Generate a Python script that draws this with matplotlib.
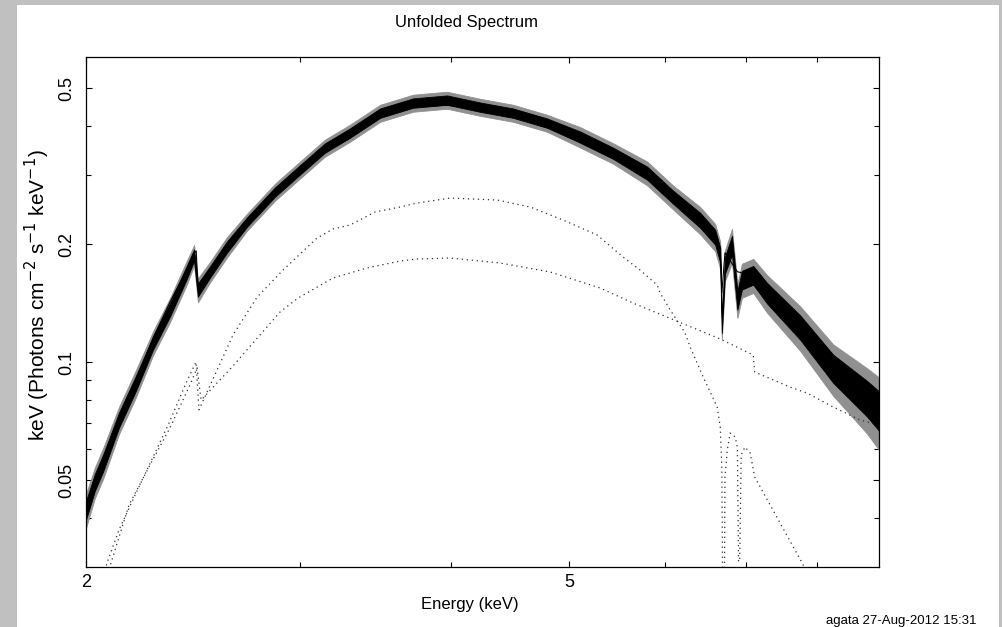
import matplotlib.pyplot as plt
from matplotlib.ticker import FixedLocator, FixedFormatter, NullFormatter
from matplotlib.patches import Rectangle

plt.rcParams['font.family'] = ['Liberation Sans', 'DejaVu Sans']

# unfolded data: band centre (keV, flux) and fractional half-width of the scatter
data_energy = [2.000, 2.034, 2.066, 2.129, 2.199, 2.271, 2.345, 2.422, 2.455, 2.473,
               2.530, 2.613, 2.714, 2.862, 3.000, 3.146, 3.300, 3.494, 3.719, 3.967,
               4.224, 4.496, 4.796, 5.106, 5.436, 5.798, 6.090, 6.410, 6.596, 6.660,
               6.680, 6.720, 6.810, 6.880, 6.940, 7.090, 7.280, 7.750, 8.250, 8.800, 9.000]
data_flux = [0.0419, 0.0494, 0.0553, 0.0711, 0.0884, 0.1118, 0.1358, 0.1697, 0.1875, 0.1527,
             0.1697, 0.1965, 0.2275, 0.2714, 0.3089, 0.3515, 0.3840, 0.4316, 0.4579, 0.4660,
             0.4470, 0.4316, 0.4070, 0.3750, 0.3410, 0.3035, 0.2636, 0.2303, 0.2084, 0.1875,
             0.1240, 0.1768, 0.1989, 0.1439, 0.1620, 0.1667, 0.1500, 0.1228, 0.0965, 0.0810, 0.0755]
data_spread = [0.10, 0.09, 0.09, 0.08, 0.08, 0.07, 0.07, 0.07, 0.06, 0.07,
               0.06, 0.06, 0.05, 0.05, 0.05, 0.05, 0.05, 0.05, 0.05, 0.05,
               0.05, 0.05, 0.05, 0.06, 0.06, 0.07, 0.07, 0.08, 0.08, 0.08,
               0.08, 0.09, 0.10, 0.10, 0.10, 0.10, 0.11, 0.13, 0.15, 0.19, 0.21]

# total model (solid)
model_energy = [2.000, 2.129, 2.199, 2.271, 2.345, 2.422, 2.455, 2.465, 2.473, 2.530,
                2.714, 3.000, 3.494, 3.719, 3.967, 4.496, 5.106, 5.798, 6.410, 6.660,
                6.680, 6.720, 6.880, 6.930, 7.050, 7.090, 7.750, 8.250, 9.000]
model_flux = [0.0425, 0.0711, 0.0890, 0.1150, 0.1420, 0.1730, 0.1900, 0.1920, 0.1550, 0.1700,
              0.2275, 0.3089, 0.4316, 0.4480, 0.4520, 0.4316, 0.3750, 0.3035, 0.2303, 0.1950,
              0.1500, 0.1900, 0.1700, 0.1690, 0.1660, 0.1580, 0.1228, 0.0965, 0.0755]

# model component with Fe lines (upper dotted)
comp1_energy = [2.060, 2.081, 2.129, 2.199, 2.271, 2.341, 2.418, 2.464, 2.478, 2.643,
                2.767, 2.906, 3.100, 3.195, 3.300, 3.460, 3.628, 3.747, 3.990, 4.363,
                4.645, 4.943, 5.273, 5.539, 5.721, 5.909, 5.942, 6.057, 6.231, 6.291,
                6.448, 6.621, 6.660, 6.680, 6.695, 6.710, 6.720, 6.750, 6.786, 6.851,
                6.880, 6.895, 6.910, 6.930, 6.980, 7.049, 7.110, 7.780, 7.900]
comp1_flux = [0.0270, 0.0307, 0.0373, 0.0463, 0.0572, 0.0699, 0.0884, 0.1000, 0.0755, 0.1172,
              0.1465, 0.1716, 0.2072, 0.2184, 0.2236, 0.2414, 0.2485, 0.2544, 0.2620, 0.2590,
              0.2485, 0.2303, 0.2109, 0.1853, 0.1716, 0.1572, 0.1500, 0.1358, 0.1186, 0.1092,
              0.0916, 0.0768, 0.0683, 0.0540, 0.0200, 0.0200, 0.0509, 0.0597, 0.0659, 0.0644,
              0.0607, 0.0310, 0.0310, 0.0580, 0.0607, 0.0586, 0.0509, 0.0307, 0.0280]

# continuum component (lower dotted)
comp2_energy = [2.080, 2.097, 2.170, 2.258, 2.345, 2.436, 2.469, 2.488, 2.643, 2.709,
                2.890, 2.990, 3.195, 3.407, 3.628, 3.747, 3.990, 4.388, 4.824, 5.303,
                5.645, 6.022, 6.660, 7.090, 7.110, 7.604, 7.855, 8.250, 8.686, 9.000]
comp2_flux = [0.0280, 0.0307, 0.0432, 0.0546, 0.0679, 0.0874, 0.0966, 0.0800, 0.0977, 0.1067,
              0.1342, 0.1456, 0.1638, 0.1737, 0.1810, 0.1831, 0.1842, 0.1789, 0.1697, 0.1545,
              0.1414, 0.1302, 0.1145, 0.1042, 0.0943, 0.0863, 0.0833, 0.0768, 0.0711, 0.0690]

x_major = [2, 5]
x_minor = [3, 4, 6, 7, 8]
y_major = [0.05, 0.1, 0.2, 0.5]
y_labels = ['0.05', '0.1', '0.2', '0.5']
y_minor = [0.04, 0.06, 0.07, 0.08, 0.09, 0.3, 0.4]

fig = plt.figure(figsize=(10.03, 6.27), dpi=100)
fig.patch.set_facecolor('#c0c0c0')
fig.patches.append(Rectangle((17 / 1003, 0), 982 / 1003, 1 - 5 / 627,
                             transform=fig.transFigure, facecolor='white',
                             edgecolor='none', zorder=-10))

ax = fig.add_axes([86 / 1003, 60 / 627, 793 / 1003, 510 / 627])
ax.set_xscale('log')
ax.set_yscale('log')

# data band: gray error extent, black core
lo = [f * (1 - s) for f, s in zip(data_flux, data_spread)]
hi = [f * (1 + s) for f, s in zip(data_flux, data_spread)]
ax.fill_between(data_energy, lo, hi, color='#909090', lw=0.6, zorder=2)
lo2 = [f * (1 - 0.55 * s) for f, s in zip(data_flux, data_spread)]
hi2 = [f * (1 + 0.55 * s) for f, s in zip(data_flux, data_spread)]
ax.fill_between(data_energy, lo2, hi2, color='black', lw=0.6, zorder=3)

ax.plot(model_energy, model_flux, color='black', lw=0.8, zorder=4)

ax.plot(comp1_energy, comp1_flux, color='#303030', lw=0.9, ls=(0, (1, 3)), zorder=2)
ax.plot(comp2_energy, comp2_flux, color='#303030', lw=0.9, ls=(0, (1, 3)), zorder=2)

ax.set_xlim(2, 9)
ax.set_ylim(0.03, 0.6)

ax.xaxis.set_major_locator(FixedLocator(x_major))
ax.xaxis.set_major_formatter(FixedFormatter([str(v) for v in x_major]))
ax.xaxis.set_minor_locator(FixedLocator(x_minor))
ax.xaxis.set_minor_formatter(NullFormatter())
ax.yaxis.set_major_locator(FixedLocator(y_major))
ax.yaxis.set_major_formatter(FixedFormatter(y_labels))
ax.yaxis.set_minor_locator(FixedLocator(y_minor))
ax.yaxis.set_minor_formatter(NullFormatter())

ax.tick_params(which='both', direction='in', top=True, right=True, width=0.8,
               labelsize=13)
ax.tick_params(which='major', length=4)
ax.tick_params(which='minor', length=3.5)
ax.tick_params(axis='x', pad=5)
ax.tick_params(axis='y', pad=8)
for lab in ax.get_yticklabels():
    lab.set_rotation(90)
    lab.set_va('center')
for sp in ax.spines.values():
    sp.set_linewidth(0.9)

fig.text(467 / 1003, 1 - 22 / 627, 'Unfolded Spectrum', ha='center', va='center', fontsize=12)
fig.text(470 / 1003, 1 - 605 / 627, 'Energy (keV)', ha='center', va='center', fontsize=12)
fig.text(37 / 1003, 1 - 295 / 627,
         r'keV (Photons cm$^{-2}$ s$^{-1}$ keV$^{-1}$)',
         rotation=90, ha='center', va='center', fontsize=15)
fig.text(977 / 1003, 1 - 621 / 627, 'agata 27\u2010Aug\u20102012 15:31',
         ha='right', va='center', fontsize=9.5)

fig.savefig('out.png', dpi=100, facecolor=fig.get_facecolor())
